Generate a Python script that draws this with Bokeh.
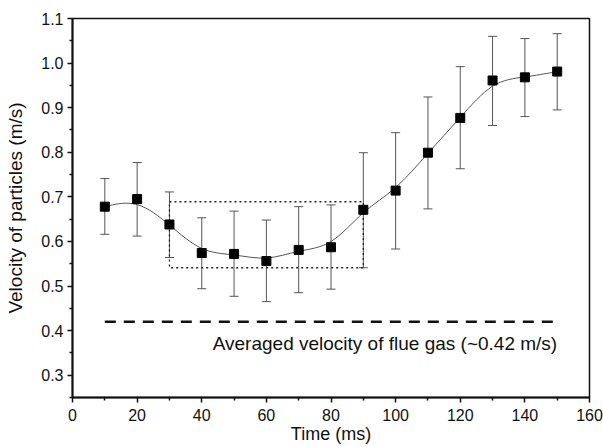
import numpy as np
from bokeh.plotting import figure
from bokeh.models import ColumnDataSource, Whisker, TeeHead, FixedTicker, Range1d
from bokeh.core.properties import value
from bokeh.embed import file_html
from bokeh.resources import INLINE

# ---- data ----
time_ms = [10, 20, 30, 40, 50, 60, 70, 80, 90, 100, 110, 120, 130, 140, 150]
velocity = [0.678, 0.695, 0.638, 0.574, 0.572, 0.556, 0.581, 0.587, 0.671,
            0.714, 0.799, 0.877, 0.961, 0.968, 0.981]
err_upper = [0.741, 0.777, 0.711, 0.653, 0.668, 0.648, 0.678, 0.682, 0.799,
             0.844, 0.924, 0.992, 1.060, 1.055, 1.066]
err_lower = [0.616, 0.612, 0.564, 0.494, 0.477, 0.465, 0.485, 0.493, 0.541,
             0.583, 0.673, 0.763, 0.860, 0.880, 0.895]
box_time = [30, 90]
box_vel = [0.541, 0.689]
gas_time = [10, 150]
gas_vel = 0.42
gas_label = ["Averaged velocity of flue gas (~0.42 m/s)"]
gas_label_y = [0.371]
x_ticks = [0, 20, 40, 60, 80, 100, 120, 140, 160]
x_minor = [10, 30, 50, 70, 90, 110, 130, 150]
y_ticks = [0.3, 0.4, 0.5, 0.6, 0.7, 0.8, 0.9, 1.0, 1.1]
y_minor = [0.25, 0.35, 0.45, 0.55, 0.65, 0.75, 0.85, 0.95, 1.05]

FONT = "Liberation Sans"

p = figure(width=603, height=447, output_backend="svg", toolbar_location=None,
           x_range=Range1d(0, 160), y_range=Range1d(0.25, 1.1),
           min_border_left=72, min_border_right=14, min_border_top=18,
           min_border_bottom=50)
p.grid.visible = False
p.outline_line_color = "#111111"
p.outline_line_width = 1.5
p.background_fill_color = "white"
p.border_fill_color = "white"

for ax in (p.xaxis[0], p.yaxis[0]):
    ax.axis_line_color = "#111111"
    ax.axis_line_width = 2
    ax.major_tick_line_color = "#111111"
    ax.minor_tick_line_color = "#111111"
    ax.major_tick_line_width = 1.5
    ax.minor_tick_line_width = 1.5
    ax.major_tick_in = 0
    ax.major_tick_out = 5
    ax.minor_tick_in = 0
    ax.minor_tick_out = 3
    ax.major_label_text_font = FONT
    ax.major_label_text_font_size = "16px"
    ax.major_label_text_color = "#111111"
    ax.axis_label_text_font = FONT
    ax.axis_label_text_font_style = "normal"
    ax.axis_label_text_color = "#111111"

p.xaxis.axis_label_text_font_size = "18px"
p.yaxis.axis_label_text_font_size = "19px"
p.xaxis.ticker = FixedTicker(ticks=x_ticks, minor_ticks=x_minor)
p.yaxis.ticker = FixedTicker(ticks=y_ticks, minor_ticks=y_minor)
p.xaxis.major_label_overrides = {t: str(t) for t in x_ticks}
p.yaxis.major_label_overrides = {t: f"{t:.1f}" for t in y_ticks}
p.xaxis.axis_label = "Time (ms)"
p.yaxis.axis_label = "Velocity of particles (m/s)"
p.xaxis.major_label_standoff = 6
p.xaxis.axis_label_standoff = 0
p.yaxis.major_label_standoff = 4
p.yaxis.axis_label_standoff = 12

# dotted box
p.quad(left=[box_time[0]], right=[box_time[1]], bottom=[box_vel[0]], top=[box_vel[1]],
       fill_color=None, line_color="#222222", line_width=1.3, line_dash="2 3")

# dashed flue gas line
p.line(gas_time, [gas_vel, gas_vel], line_color="#111111", line_width=2.5,
       line_dash="11 8")
p.text(x=[gas_time[1]], y=gas_label_y, text=gas_label, text_align="right",
       text_baseline="alphabetic", text_font=value(FONT), text_font_size="19px",
       text_color="#111111")

# error bars
src = ColumnDataSource(dict(t=time_ms, v=velocity, up=err_upper, lo=err_lower))
wh = Whisker(base="t", upper="up", lower="lo", source=src,
             line_color="#555555", line_width=1,
             upper_head=TeeHead(size=9, line_color="#555555", line_width=1),
             lower_head=TeeHead(size=9, line_color="#555555", line_width=1))
p.add_layout(wh)

# B-spline curve (data points as control points), drawn as bezier segments
P = np.column_stack([time_ms, velocity]).astype(float)
E = np.vstack([P[:1], P[:1], P, P[-1:], P[-1:]])
x0, y0, x1, y1, cx0, cy0, cx1, cy1 = ([] for _ in range(8))
for j in range(len(E) - 3):
    a, b, c, d = E[j], E[j + 1], E[j + 2], E[j + 3]
    s = (a + 4 * b + c) / 6
    e = (b + 4 * c + d) / 6
    c0 = (2 * b + c) / 3
    c1 = (b + 2 * c) / 3
    x0.append(s[0]); y0.append(s[1]); x1.append(e[0]); y1.append(e[1])
    cx0.append(c0[0]); cy0.append(c0[1]); cx1.append(c1[0]); cy1.append(c1[1])
p.bezier(x0=x0, y0=y0, x1=x1, y1=y1, cx0=cx0, cy0=cy0, cx1=cx1, cy1=cy1,
         line_color="#555555", line_width=1)

# markers
p.scatter("t", "v", source=src, marker="square", size=9, fill_color="black",
          line_color="black")

open("out.html", "w").write(file_html(p, INLINE))
